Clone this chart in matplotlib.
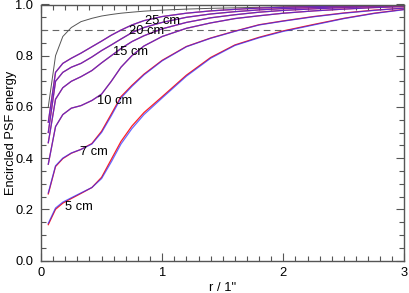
import matplotlib
matplotlib.use("Agg")
import matplotlib.pyplot as plt
from matplotlib.ticker import MultipleLocator

plt.rcParams['font.family'] = ['Liberation Sans', 'DejaVu Sans']

r = [0.06, 0.12, 0.18, 0.25, 0.33, 0.42, 0.5, 0.58, 0.66, 0.75, 0.85,
     1.0, 1.2, 1.4, 1.6, 1.8, 2.0, 2.25, 2.5, 2.75, 3.0]

ideal = [0.60, 0.80, 0.875, 0.91, 0.933, 0.946, 0.955, 0.961, 0.966, 0.970, 0.974,
         0.978, 0.982, 0.985, 0.987, 0.989, 0.991, 0.993, 0.994, 0.995, 0.996]

ee_5_blue = [0.145, 0.205, 0.228, 0.245, 0.264, 0.285, 0.32, 0.385, 0.455, 0.515, 0.57,
             0.635, 0.72, 0.79, 0.84, 0.87, 0.895, 0.92, 0.945, 0.965, 0.98]
ee_5_red = [0.140, 0.200, 0.224, 0.242, 0.262, 0.285, 0.325, 0.395, 0.465, 0.525, 0.578,
            0.640, 0.724, 0.793, 0.842, 0.872, 0.897, 0.922, 0.946, 0.966, 0.981]
ee_7_blue = [0.264, 0.37, 0.40, 0.42, 0.434, 0.455, 0.50, 0.565, 0.635, 0.68, 0.725,
             0.78, 0.835, 0.868, 0.895, 0.92, 0.935, 0.952, 0.966, 0.977, 0.986]
ee_7_red = [0.260, 0.367, 0.398, 0.419, 0.434, 0.457, 0.505, 0.572, 0.640, 0.684, 0.728,
            0.782, 0.836, 0.869, 0.896, 0.921, 0.936, 0.953, 0.967, 0.978, 0.986]
ee_10 = [0.376, 0.523, 0.57, 0.595, 0.605, 0.625, 0.65, 0.70, 0.755, 0.80, 0.838,
         0.875, 0.907, 0.928, 0.945, 0.956, 0.966, 0.975, 0.982, 0.988, 0.992]
ee_15 = [0.46, 0.63, 0.675, 0.70, 0.718, 0.742, 0.772, 0.80, 0.828, 0.855, 0.878,
         0.905, 0.93, 0.948, 0.96, 0.97, 0.977, 0.983, 0.988, 0.992, 0.995]
ee_20 = [0.50, 0.70, 0.735, 0.755, 0.77, 0.795, 0.82, 0.842, 0.865, 0.89, 0.91,
         0.93, 0.95, 0.963, 0.972, 0.979, 0.984, 0.988, 0.991, 0.994, 0.996]
ee_25 = [0.54, 0.735, 0.77, 0.79, 0.81, 0.835, 0.857, 0.88, 0.90, 0.92, 0.937,
         0.953, 0.966, 0.975, 0.981, 0.986, 0.989, 0.992, 0.994, 0.996, 0.997]

labels = ["5 cm", "7 cm", "10 cm", "15 cm", "20 cm", "25 cm"]
label_x = [0.31, 0.44, 0.61, 0.74, 0.87, 1.0]
label_y = [0.208, 0.422, 0.625, 0.815, 0.897, 0.937]

threshold = 0.9

fig = plt.figure(figsize=(4.09, 2.93), dpi=100)
ax = fig.add_axes([41 / 409, 1 - 260.5 / 293, 363.5 / 409, 256 / 293])

ax.axhline(threshold, color='#666666', lw=0.8, dashes=(6, 4))
ax.plot(r, ideal, color='#555555', lw=0.7)

pairs = [(ee_5_red, ee_5_blue), (ee_7_red, ee_7_blue), (ee_10, ee_10),
         (ee_15, ee_15), (ee_20, ee_20), (ee_25, ee_25)]
for red, blue in pairs:
    ax.plot(r, red, color='#ff2020', lw=0.9)
    ax.plot(r, blue, color='#2a2aff', lw=0.9, alpha=0.7)

for t, x, y in zip(labels, label_x, label_y):
    ax.text(x, y, t, fontsize=9.3, ha='center', va='center', color='black')

ax.set_xlim(0, 3)
ax.set_ylim(0, 1.0)
ax.xaxis.set_major_locator(MultipleLocator(1))
ax.xaxis.set_minor_locator(MultipleLocator(0.1))
ax.yaxis.set_major_locator(MultipleLocator(0.2))
ax.yaxis.set_minor_locator(MultipleLocator(0.05))
ax.yaxis.set_major_formatter(plt.FuncFormatter(lambda v, p: f"{v:.1f}"))
ax.xaxis.set_major_formatter(plt.FuncFormatter(lambda v, p: f"{v:.0f}"))
ax.tick_params(which='both', direction='in', top=True, right=True, color='#555555',
               width=0.8, labelsize=9.3)
ax.tick_params(which='major', length=6)
ax.tick_params(which='minor', length=3.5)
ax.tick_params(axis='x', pad=5)
ax.tick_params(axis='y', pad=5.5)
for s in ax.spines.values():
    s.set_color('#555555')
    s.set_linewidth(1.0)

ax.set_xlabel('r / 1"', fontsize=9.3, labelpad=2)
ax.set_ylabel('Encircled PSF energy', fontsize=9.3, va='center', ha='center')
ax.yaxis.set_label_coords((11 - 41) / 363.5, 0.5)

fig.savefig('out.png', dpi=100)
